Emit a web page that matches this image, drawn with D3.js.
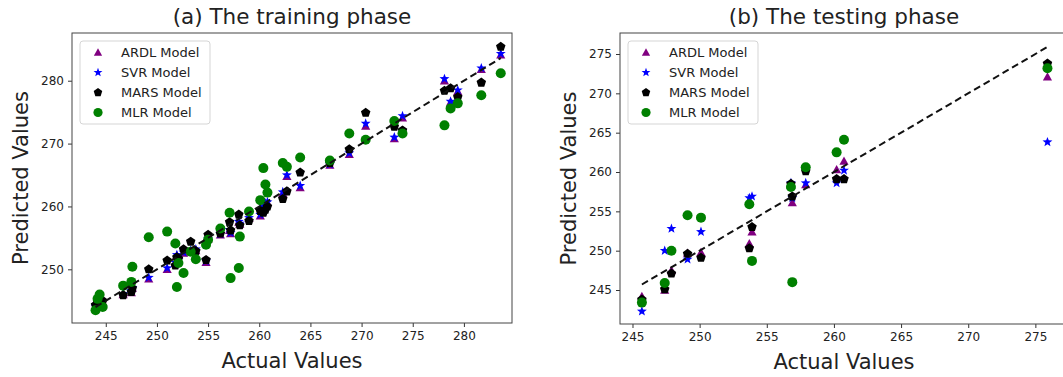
<!DOCTYPE html>
<html>
<head>
<meta charset="utf-8">
<script src="https://cdn.jsdelivr.net/npm/d3@7"></script>
<style>
  body { margin: 0; background: #fff; overflow: hidden; }
  svg text { font-family: "DejaVu Sans", sans-serif; fill: #222; }
</style>
</head>
<body>
<svg id="chart" width="1063" height="377"></svg>
<script>
// training phase: actual vs predicted
const trainActual = [244.0, 244.2, 244.4, 244.7, 246.7, 247.5, 247.6, 249.2, 251.0, 251.8, 251.95, 252.1, 252.6, 253.3, 253.8, 254.8, 255.0, 256.2, 257.1, 257.2, 258.0, 258.1, 259.0, 260.1, 260.4, 260.6, 260.8, 262.3, 262.7, 264.0, 266.9, 268.8, 270.4, 273.2, 274.0, 278.1, 278.7, 279.4, 281.7, 283.6];
const trainARDL   = [244.0, 244.6, 244.4, 244.8, 246.0, 246.3, 247.0, 248.5, 250.0, 251.0, 252.2, 251.4, 252.6, 252.8, 253.0, 251.1, 254.8, 255.5, 256.2, 255.7, 257.5, 257.2, 258.1, 258.5, 259.8, 260.3, 260.6, 262.1, 264.8, 263.0, 266.6, 268.3, 272.8, 270.8, 274.1, 280.0, 276.6, 278.3, 281.8, 284.1];
const trainSVR    = [244.1, 244.5, 244.6, 244.9, 246.1, 246.6, 247.1, 248.7, 250.2, 251.1, 252.3, 251.5, 252.7, 253.0, 253.2, 251.3, 254.9, 255.6, 256.3, 255.8, 257.6, 257.3, 258.2, 258.7, 260.0, 260.5, 260.7, 262.3, 265.0, 263.3, 266.7, 268.5, 273.2, 271.0, 274.4, 280.3, 276.7, 278.5, 282.0, 284.3];
const trainMARS   = [244.3, 244.8, 244.5, 245.0, 245.9, 246.4, 247.0, 250.0, 251.4, 250.6, 251.9, 251.7, 253.2, 254.4, 252.9, 251.5, 255.5, 255.7, 257.5, 256.2, 258.7, 257.0, 257.7, 259.3, 259.0, 259.5, 260.0, 261.2, 262.4, 265.4, 266.9, 269.1, 274.9, 272.7, 272.1, 278.4, 278.8, 277.4, 279.7, 285.4];
const trainMLR    = [243.5, 245.3, 246.0, 244.0, 247.4, 248.0, 250.4, 255.1, 256.0, 254.1, 247.2, 251.0, 249.4, 252.8, 251.6, 253.9, 254.7, 256.5, 259.0, 248.6, 250.2, 255.2, 259.2, 261.0, 266.1, 263.5, 262.2, 266.9, 266.3, 267.8, 267.3, 271.6, 270.6, 273.6, 271.6, 272.9, 275.6, 276.4, 277.7, 281.2];

// testing phase
const testActual = [245.7, 247.4, 247.9, 249.1, 250.1, 253.7, 253.9, 256.8, 256.9, 257.9, 260.2, 260.75, 275.9];
const testARDL   = [244.2, 245.0, 247.5, 249.7, 249.8, 250.9, 252.4, 258.3, 256.1, 258.4, 260.3, 261.4, 272.1];
const testSVR    = [242.3, 250.0, 252.8, 248.9, 252.4, 256.7, 256.9, 258.6, 256.7, 258.6, 258.6, 260.2, 263.8];
const testMARS   = [243.8, 245.1, 247.1, 249.6, 249.1, 250.3, 253.0, 258.5, 256.9, 260.1, 259.1, 259.1, 273.8];
const testMLR    = [243.4, 245.9, 250.0, 254.5, 254.2, 255.9, 248.7, 258.1, 246.0, 260.6, 262.5, 264.1, 273.2];

const seriesNames = ["ARDL Model", "SVR Model", "MARS Model", "MLR Model"];
const seriesColors = ["#800080", "#0000ff", "#000000", "#008000"];
const seriesShapes = ["triangle", "star", "pentagon", "circle"];

const svg = d3.select("#chart");

function markerPath(shape, r) {
  let pts = [];
  if (shape === "triangle") {
    pts = [[0, -r], [-r, r * 0.8], [r, r * 0.8]];
  } else if (shape === "star") {
    for (let i = 0; i < 10; i++) {
      const a = -Math.PI / 2 + i * Math.PI / 5;
      const rr = i % 2 === 0 ? r : r * 0.42;
      pts.push([rr * Math.cos(a), rr * Math.sin(a)]);
    }
  } else if (shape === "pentagon") {
    for (let i = 0; i < 5; i++) {
      const a = -Math.PI / 2 + i * 2 * Math.PI / 5;
      pts.push([r * Math.cos(a), r * Math.sin(a)]);
    }
  }
  return "M" + pts.map(p => p.join(",")).join("L") + "Z";
}
const markerSize = [4.6, 5.2, 5.0, 5.0];

function drawPanel(opts) {
  const { left, top, width, height, xDomain, yDomain, xTicks, yTicks, title, titleX, actual, preds } = opts;
  const g = svg.append("g").attr("transform", "translate(" + left + "," + top + ")");

  const x = d3.scaleLinear().domain(xDomain).range([0, width]);
  const y = d3.scaleLinear().domain(yDomain).range([height, 0]);

  const xAxis = g.append("g")
    .attr("transform", "translate(0," + height + ")")
    .call(d3.axisBottom(x).tickValues(xTicks).tickSize(4).tickPadding(4).tickFormat(d3.format("d")));
  const yAxis = g.append("g")
    .call(d3.axisLeft(y).tickValues(yTicks).tickSize(4).tickPadding(4).tickFormat(d3.format("d")));
  [xAxis, yAxis].forEach(a => {
    a.select(".domain").remove();
    a.selectAll("line").attr("stroke", "#333");
    a.selectAll("text").style("font-size", "12px").attr("fill", "#333");
  });

  // points, one series after another
  preds.forEach((vals, s) => {
    const pts = g.append("g");
    const data = actual.map((a, i) => ({ a: a, p: vals[i] }));
    if (seriesShapes[s] === "circle") {
      pts.selectAll("circle").data(data).enter().append("circle")
        .attr("cx", d => x(d.a))
        .attr("cy", d => y(d.p))
        .attr("r", markerSize[s])
        .attr("fill", seriesColors[s]);
    } else {
      pts.selectAll("path").data(data).enter().append("path")
        .attr("transform", d => "translate(" + x(d.a) + "," + y(d.p) + ")")
        .attr("d", markerPath(seriesShapes[s], markerSize[s]))
        .attr("fill", seriesColors[s]);
    }
  });

  // 1:1 line
  const lo = d3.min(actual), hi = d3.max(actual);
  g.append("line")
    .attr("x1", x(lo)).attr("y1", y(lo))
    .attr("x2", x(hi)).attr("y2", y(hi))
    .attr("stroke", "#111")
    .attr("stroke-width", 2)
    .attr("stroke-dasharray", "7,4");

  // frame
  g.append("rect")
    .attr("width", width).attr("height", height)
    .attr("fill", "none").attr("stroke", "#444").attr("stroke-width", 1);

  // legend
  const lg = g.append("g").attr("transform", "translate(8,8)");
  lg.append("rect")
    .attr("width", 130).attr("height", 83).attr("rx", 3)
    .attr("fill", "#fff").attr("fill-opacity", 0.85)
    .attr("stroke", "#d5d5d5");
  seriesNames.forEach((name, s) => {
    const ly = 11.5 + s * 20;
    if (seriesShapes[s] === "circle") {
      lg.append("circle").attr("cx", 18).attr("cy", ly).attr("r", 4.6).attr("fill", seriesColors[s]);
    } else {
      lg.append("path")
        .attr("transform", "translate(18," + ly + ")")
        .attr("d", markerPath(seriesShapes[s], markerSize[s] * 0.9))
        .attr("fill", seriesColors[s]);
    }
    lg.append("text").attr("x", 41).attr("y", ly + 4.5)
      .style("font-size", "13px").text(name);
  });

  // titles
  g.append("text")
    .attr("x", titleX).attr("y", -9)
    .attr("text-anchor", "middle")
    .style("font-size", "21.5px")
    .text(title);
  g.append("text")
    .attr("x", titleX).attr("y", height + 45)
    .attr("text-anchor", "middle")
    .style("font-size", "21px")
    .text("Actual Values");
  g.append("text")
    .attr("transform", "translate(" + (-44) + "," + (height / 2) + ") rotate(-90)")
    .attr("text-anchor", "middle")
    .style("font-size", "21px")
    .text("Predicted Values");
}

drawPanel({
  left: 72, top: 33, width: 440, height: 290,
  xDomain: [241.7, 284.7], yDomain: [241.46, 287.59],
  xTicks: [245, 250, 255, 260, 265, 270, 275, 280],
  yTicks: [250, 260, 270, 280],
  title: "(a) The training phase", titleX: 220,
  actual: trainActual,
  preds: [trainARDL, trainSVR, trainMARS, trainMLR]
});

drawPanel({
  left: 620, top: 33, width: 448, height: 291,
  xDomain: [244.07, 277.43], yDomain: [240.68, 277.67],
  xTicks: [245, 250, 255, 260, 265, 270, 275],
  yTicks: [245, 250, 255, 260, 265, 270, 275],
  title: "(b) The testing phase", titleX: 224,
  actual: testActual,
  preds: [testARDL, testSVR, testMARS, testMLR]
});
</script>
</body>
</html>
